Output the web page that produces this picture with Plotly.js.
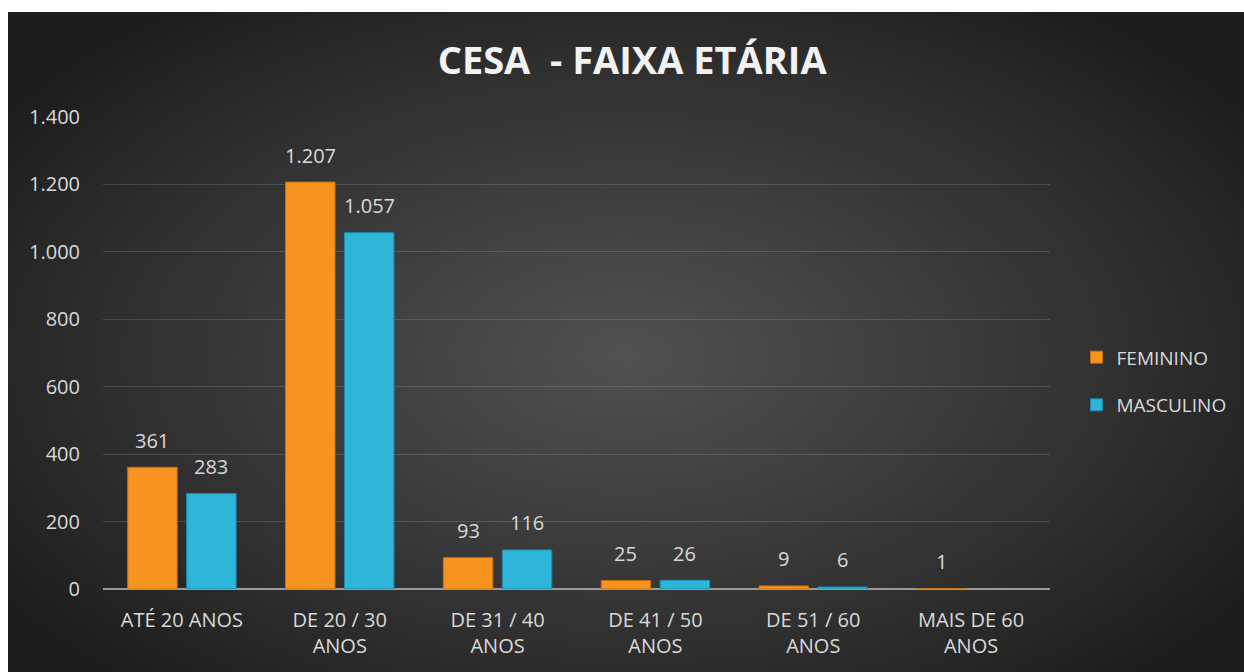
<!DOCTYPE html>
<html>
<head>
<meta charset="utf-8">
<script src="https://cdn.plot.ly/plotly-3.0.1.min.js"></script>
<style>
  html, body { margin: 0; padding: 0; background: #ffffff; width: 1244px; height: 672px; overflow: hidden; }
  #chart {
    position: absolute; left: 8px; top: 12px; width: 1236px; height: 660px;
    background: radial-gradient(ellipse 60% 65% at 50% 52%, #505050 0%, #3b3b3b 45%, #262626 85%, #1d1d1d 100%);
  }
</style>
</head>
<body>
<div id="chart"></div>
<script>
const categories = ["ATÉ 20 ANOS", "DE 20 / 30<br>ANOS", "DE 31 / 40<br>ANOS", "DE 41 / 50<br>ANOS", "DE 51 / 60<br>ANOS", "MAIS DE 60<br>ANOS"];
const feminino = [361, 1207, 93, 25, 9, 1];
const masculino = [283, 1057, 116, 26, 6, null];
const yTicks = [0, 200, 400, 600, 800, 1000, 1200, 1400];
const titleText = "CESA&nbsp;&nbsp;- FAIXA ETÁRIA";

const FONT = "'Open Sans', 'Liberation Sans', sans-serif";
const orange = "#F7931E";
const cyan = "#2DB5DA";

const traces = [
  { type: "bar", name: "FEMININO", x: categories, y: feminino, legendgroup: "f",
    marker: { color: orange, line: { color: "#C9700F", width: 1 } }, hoverinfo: "y" },
  { type: "bar", name: "MASCULINO", x: categories, y: masculino, legendgroup: "m",
    marker: { color: cyan, line: { color: "#1B8CAD", width: 1 } }, hoverinfo: "y" }
];

function fmt(v) { return v.toString().replace(/\B(?=(\d{3})+(?!\d))/g, "."); }

const annotations = [];
[[feminino, -29.5], [masculino, 29.5]].forEach(([arr, dx]) => {
  arr.forEach((v, i) => {
    if (v === null) return;
    annotations.push({
      x: categories[i], y: v, xref: "x", yref: "y", text: fmt(v),
      showarrow: false, xshift: dx, yshift: 27, yanchor: "middle",
      font: { family: FONT, size: 20, color: "#D9D9D9" }
    });
  });
});

const layout = {
  width: 1236, height: 660,
  paper_bgcolor: "rgba(0,0,0,0)", plot_bgcolor: "rgba(0,0,0,0)",
  margin: { l: 95, r: 194, t: 105, b: 83, pad: 0 },
  separators: ",.",
  font: { family: FONT, color: "#D9D9D9", size: 20 },
  title: { text: titleText, x: 0.505, xanchor: "center", y: 0.926, yanchor: "middle",
           font: { family: "'Open Sans', sans-serif", size: 38, color: "#F2F2F2", weight: 700 } },
  barmode: "group", bargap: 0.253, bargroupgap: 0.161,
  xaxis: { type: "category", showgrid: false, zeroline: false, showline: false,
           ticks: "", ticklabelstandoff: 17, tickfont: { family: FONT, size: 20, color: "#D9D9D9" },
           fixedrange: true },
  yaxis: { range: [0, 1400], tickvals: yTicks, tickformat: ",d", showgrid: true,
           gridcolor: "rgba(255,255,255,0.14)", gridwidth: 1,
           zeroline: true, zerolinecolor: "#9a9a9a", zerolinewidth: 2,
           showline: false, ticks: "", ticklabelstandoff: 22,
           tickfont: { family: FONT, size: 20, color: "#D9D9D9" }, fixedrange: true },
  legend: { x: 1.028, xanchor: "left", y: 0.44, yanchor: "middle", traceorder: "grouped",
            tracegroupgap: 20, font: { family: FONT, size: 19, color: "#D9D9D9" },
            bgcolor: "rgba(0,0,0,0)", itemwidth: 30 },
  annotations: annotations,
  showlegend: true
};

Plotly.newPlot("chart", traces, layout, { displayModeBar: false, staticPlot: true });
</script>
</body>
</html>
